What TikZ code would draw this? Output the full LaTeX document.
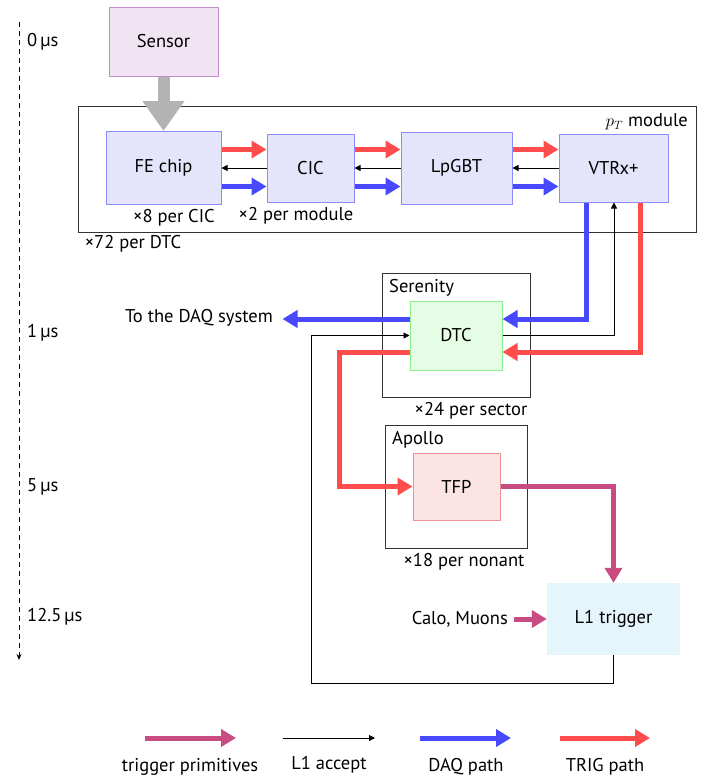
\documentclass[tikz,border=0pt]{standalone}
\usepackage{fontspec}
\setmainfont{PT Sans}
\usetikzlibrary{arrows.meta}
\definecolor{tred}{RGB}{255,77,77}
\definecolor{dblue}{RGB}{72,72,255}
\definecolor{tpurple}{RGB}{200,75,130}
\definecolor{gfill}{RGB}{179,179,179}
\definecolor{bfill}{RGB}{228,228,250}
\definecolor{bdraw}{RGB}{140,140,255}
\definecolor{sfill}{RGB}{240,228,242}
\definecolor{sdraw}{RGB}{196,140,204}
\definecolor{dfill}{RGB}{229,252,229}
\definecolor{ddraw}{RGB}{140,238,140}
\definecolor{tfill}{RGB}{253,228,228}
\definecolor{tdraw}{RGB}{240,144,144}
\definecolor{lfill}{RGB}{228,245,252}
\begin{document}
\begin{tikzpicture}[x=1pt,y=-1pt,
  font=\fontsize{18.5}{22}\selectfont,
  chip/.style={draw=bdraw, fill=bfill, line width=1pt, inner sep=0pt},
  frame/.style={draw=black!80, line width=1pt},
  redarr/.style={draw=tred, line width=5pt, -{Triangle[length=15pt,width=17pt]}},
  bluearr/.style={draw=dblue, line width=5pt, -{Triangle[length=15pt,width=17pt]}},
  purarr/.style={draw=tpurple, line width=5pt, -{Triangle[length=15pt,width=17pt]}},
  blkarr/.style={draw=black, line width=0.8pt, -{Triangle[length=6pt,width=6pt]}},
  note/.style={inner sep=0pt}
]
\useasboundingbox (0,0) rectangle (701,780);

% timeline
\coordinate (t0) at (19,22);
\coordinate (t1) at (19,660);
\draw[dash pattern=on 5pt off 4pt, line width=0.8pt, -{Stealth[length=6pt,width=5pt]}] (t0) -- (t1);
\node[note, anchor=west] (l0) at (27,42) {0\,µs};
\node[note, anchor=west] (l1) at (27,333) {1\,µs};
\node[note, anchor=west] (l5) at (27,487) {5\,µs};
\node[note, anchor=west] (l12) at (27,617) {12.5\,µs};

% module frame
\node[frame, minimum width=618pt, minimum height=126pt, inner sep=0pt] (mod) at (387,169) {};
\node[note, anchor=east] (modlab) at (688,122) {$p_T$ module};
\node[note] (x72) at (133,244) {×72 per DTC};

% sensor
\node[draw=sdraw, fill=sfill, line width=1pt, minimum width=109pt, minimum height=69pt] (sensor) at (163.5,41.5) {Sensor};

% chips
\node[chip, minimum width=115pt, minimum height=73pt] (fe) at (163.5,168) {FE chip};
\node[chip, minimum width=87pt, minimum height=68pt] (cic) at (310.5,168) {CIC};
\node[chip, minimum width=111pt, minimum height=72pt] (lp) at (456.5,168) {LpGBT};
\node[chip, minimum width=109pt, minimum height=68pt] (vt) at (613.5,168) {VTRx+};

\node[note] (x8) at (174,218) {×8 per CIC};
\node[note] (x2) at (296,216) {×2 per module};

% sensor arrow
\draw[draw=gfill, line width=12pt, -{Triangle[length=30pt,width=40pt]}] (sensor.south) -- (fe.north);

% module arrows
\draw[redarr] ([yshift=18.5pt]fe.east) -- ([yshift=18.5pt]cic.west);
\draw[blkarr] (cic.west) -- (fe.east);
\draw[bluearr] ([yshift=-18.5pt]fe.east) -- ([yshift=-18.5pt]cic.west);

\draw[redarr] ([yshift=18.5pt]cic.east) -- ([yshift=18.5pt]lp.west);
\draw[blkarr] (lp.west) -- (cic.east);
\draw[bluearr] ([yshift=-18.5pt]cic.east) -- ([yshift=-18.5pt]lp.west);

\draw[redarr] ([yshift=18.5pt]lp.east) -- ([yshift=18.5pt]vt.west);
\draw[blkarr] (vt.west) -- (lp.east);
\draw[bluearr] ([yshift=-18.5pt]lp.east) -- ([yshift=-18.5pt]vt.west);

% Serenity
\node[frame, minimum width=148pt, minimum height=124pt, inner sep=0pt] (ser) at (456,335) {};
\node[note, anchor=west] (serlab) at (389,288) {Serenity};
\node[draw=ddraw, fill=dfill, line width=1pt, minimum width=92pt, minimum height=69pt] (dtc) at (456,335.5) {DTC};
\node[note] (x24) at (471,411) {×24 per sector};

% Apollo
\node[frame, minimum width=142pt, minimum height=123pt, inner sep=0pt] (apo) at (456,486.5) {};
\node[note, anchor=west] (apolab) at (392,440) {Apollo};
\node[draw=tdraw, fill=tfill, line width=1pt, minimum width=87pt, minimum height=67pt] (tfp) at (456.5,486.5) {TFP};
\node[note] (x18) at (464,562) {×18 per nonant};

% L1 trigger
\node[fill=lfill, minimum width=133pt, minimum height=72pt] (l1t) at (613.5,619) {L1 trigger};
\node[note, anchor=east] (calo) at (508,619) {Calo, Muons};

% DAQ out
\node[note, anchor=east] (daq) at (273,318) {To the DAQ system};

% VTRx <-> DTC
\draw[bluearr] ([xshift=-27.5pt]vt.south) |- ([yshift=16.5pt]dtc.east);
\draw[redarr] ([xshift=26.5pt]vt.south) |- ([yshift=-16.5pt]dtc.east);
\draw[blkarr] (dtc.east) -| ([xshift=0.5pt]vt.south);

% DTC -> DAQ
\draw[bluearr] ([yshift=16.5pt]dtc.west) -- ++(-127,0);

% DTC -> TFP (trig)
\coordinate (rc) at (339,352);
\draw[redarr] ([yshift=-16.5pt]dtc.west) -| (rc |- tfp.west) -- (tfp.west);

% TFP -> L1
\draw[purarr] (tfp.east) -| (l1t.north);

% Calo -> L1
\draw[purarr] ([xshift=6pt]calo.east) -- (l1t.west);

% L1 accept
\coordinate (la2) at (311,683);
\draw[blkarr] (l1t.south) |- (la2) |- (dtc.west);

% legend
\coordinate (g1a) at (145,738); \coordinate (g1b) at (236,738);
\coordinate (g2a) at (283,738); \coordinate (g2b) at (375,738);
\coordinate (g3a) at (420,738); \coordinate (g3b) at (511,738);
\coordinate (g4a) at (560,738); \coordinate (g4b) at (650,738);
\draw[purarr] (g1a) -- (g1b);
\draw[blkarr] (g2a) -- (g2b);
\draw[bluearr] (g3a) -- (g3b);
\draw[redarr] (g4a) -- (g4b);
\node[note] (lg1) at (190,767) {trigger primitives};
\node[note] (lg2) at (329,765) {L1 accept};
\node[note] (lg3) at (466,767) {DAQ path};
\node[note] (lg4) at (605,767) {TRIG path};
\end{tikzpicture}
\end{document}
